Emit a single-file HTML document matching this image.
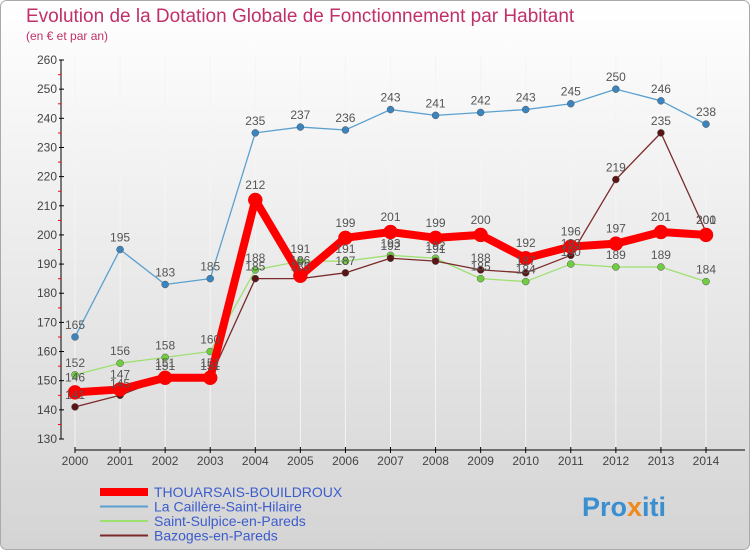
<!DOCTYPE html>
<html><head><meta charset="utf-8"><style>
body{margin:0;background:#fff;font-family:"Liberation Sans",sans-serif}
svg text{font-family:"Liberation Sans",sans-serif}
</style></head><body>
<svg id="c" width="750" height="550" xmlns="http://www.w3.org/2000/svg">
<defs>
<linearGradient id="bg" x1="0" y1="0" x2="0" y2="1"><stop offset="0" stop-color="#ffffff"/><stop offset="1" stop-color="#d4d4d4"/></linearGradient>
</defs>
<rect x="0.5" y="0.5" width="749" height="549" rx="6" fill="url(#bg)" stroke="#aaa"/>
<text x="26" y="22" font-size="19" fill="#c0306a">Evolution de la Dotation Globale de Fonctionnement par Habitant</text>
<text x="26" y="40" font-size="12" fill="#c0306a">(en € et par an)</text>
<g id="grid"></g><g id="series"></g><g id="legend"></g>
<text x="582" y="516" font-size="27" font-weight="bold" fill="#3a8fd0">Pro<tspan fill="#f08a1c">x</tspan>iti</text>
</svg>
<script>
const years=[2000,2001,2002,2003,2004,2005,2006,2007,2008,2009,2010,2011,2012,2013,2014];
const thouarsais=[146,147,151,151,212,186,199,201,199,200,192,196,197,201,200];
const caillere=[165,195,183,185,235,237,236,243,241,242,243,245,250,246,238];
const sulpice=[152,156,158,160,188,191,191,193,192,185,184,190,189,189,184];
const bazoges=[141,145,151,151,185,185,187,192,191,188,187,193,219,235,201];
const yTicks=[130,140,150,160,170,180,190,200,210,220,230,240,250,260];
const NS="http://www.w3.org/2000/svg";
const x=i=>75+i*(706-75)/14;
const y=v=>439-(v-130)*(379/130);
function mk(t,a,p){const e=document.createElementNS(NS,t);for(const k in a)e.setAttribute(k,a[k]);p.appendChild(e);return e;}
const g=document.getElementById('grid');
years.forEach((yr,i)=>{
 const l=mk('line',{x1:x(i),x2:x(i),y1:55,y2:450,stroke:'#f4f4f4'},g);
 
 
 const tk=mk('line',{x1:x(i),x2:x(i),y1:447,y2:453,stroke:'#000'},g);
 
 
 const t=mk('text',{x:x(i),y:465,'font-size':12,fill:'#444','text-anchor':'middle'},g);t.textContent=yr;
 
 
});
const ya=mk('line',{x1:61,x2:61,y1:y(260),y2:y(130),stroke:'#000'},g);


yTicks.forEach(v=>{
 const tk=mk('line',{x1:59,x2:64,y1:y(v),y2:y(v),stroke:'#000'},g);
 
 
 const t=mk('text',{x:57,y:y(v)+4,'font-size':12,fill:'#444','text-anchor':'end'},g);t.textContent=v;
 
 
 if(v<260){
 const d=mk('line',{x1:58,x2:61,y1:y(v)-14.5,y2:y(v)-14.5,stroke:'#f00'},g);
 
 }
});
const d0=mk('line',{x1:58,x2:61,y1:y(130)-14.5,y2:y(130)-14.5,stroke:'#f00'},g);
const ax=mk('line',{x1:75,x2:745,y1:450,y2:450,stroke:'#000'},g);


const sg=document.getElementById('series');
const defs=[
 {d:caillere,c:'#5aa0d0',pc:'#3a84c0',w:1.3,r:3.5,n:'caillere'},
 {d:sulpice,c:'#9ee070',pc:'#70cc40',w:1.3,r:3.5,n:'sulpice'},
 {d:bazoges,c:'#7a2a2a',pc:'#5a1414',w:1.3,r:3.5,n:'bazoges'},
 {d:thouarsais,c:'#ff0000',pc:'#ff0000',w:8,r:7,n:'thouarsais'}
];
defs.forEach(s=>{
 const pl=mk('polyline',{points:s.d.map((v,i)=>x(i)+','+y(v)).join(' '),fill:'none',stroke:s.c,'stroke-width':s.w,'stroke-linejoin':'round'},sg);
 
 
 s.d.forEach((v,i)=>{
  const p=mk('circle',{cx:x(i),cy:y(v),r:s.r,fill:s.pc,stroke:s.n==='thouarsais'?'#e00':'#555','stroke-width':0.5},sg);
  
  
 });
});
defs.forEach(s=>{
 s.d.forEach((v,i)=>{
  const t=mk('text',{x:x(i),y:y(v)-(s.n==='thouarsais'?11:8),'font-size':12,fill:'#555','text-anchor':'middle'},sg);
  t.textContent=v;
  
  
 });
});
const lg=document.getElementById('legend');
const leg=[['THOUARSAIS-BOUILDROUX','#ff0000',8],['La Caillère-Saint-Hilaire','#5aa0d0',2],['Saint-Sulpice-en-Pareds','#9ee070',2],['Bazoges-en-Pareds','#7a2a2a',2]];
leg.forEach((e,i)=>{
 const yy=492+i*14.5;
 const l=mk('line',{x1:100,x2:148,y1:yy,y2:yy,stroke:e[1],'stroke-width':e[2]},lg);
 
 
 const t=mk('text',{x:154,y:yy+5,'font-size':14,fill:'#3c5ccc'},lg);t.textContent=e[0];
 
 
});
</script>
</body></html>
